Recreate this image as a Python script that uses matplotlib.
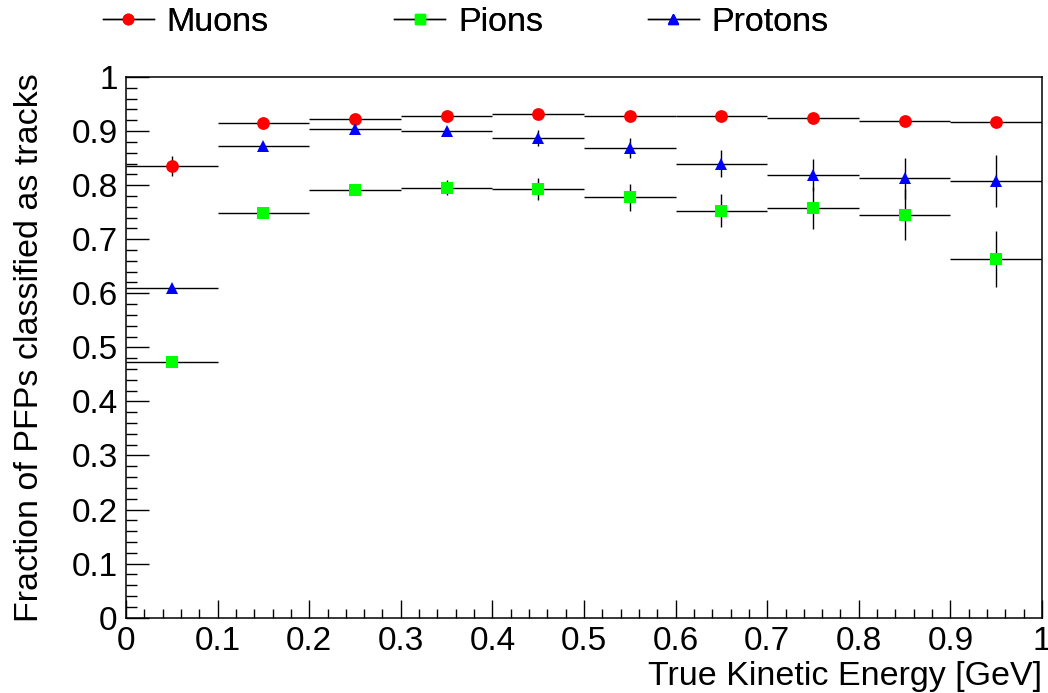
import matplotlib
matplotlib.use("Agg")
import matplotlib.pyplot as plt
from matplotlib.lines import Line2D
from matplotlib.ticker import MultipleLocator

plt.rcParams['font.family'] = ['Liberation Sans', 'DejaVu Sans']

# bin centres (GeV) and half widths
energia = [0.05, 0.15, 0.25, 0.35, 0.45, 0.55, 0.65, 0.75, 0.85, 0.95]
pol_szer = [0.05] * 10

miony = [0.835, 0.915, 0.922, 0.927, 0.931, 0.928, 0.927, 0.925, 0.918, 0.917]
miony_err = [0.018, 0.004, 0.003, 0.003, 0.003, 0.003, 0.003, 0.003, 0.003, 0.003]

piony = [0.472, 0.748, 0.791, 0.795, 0.793, 0.778, 0.753, 0.758, 0.745, 0.663]
piony_err = [0.004, 0.006, 0.009, 0.014, 0.020, 0.025, 0.031, 0.039, 0.047, 0.052]

protony = [0.609, 0.872, 0.904, 0.900, 0.887, 0.869, 0.840, 0.819, 0.813, 0.808]
protony_err = [0.004, 0.005, 0.006, 0.008, 0.015, 0.019, 0.025, 0.030, 0.038, 0.048]

fig = plt.figure(figsize=(10.48, 6.93), dpi=100)
ax = fig.add_axes([0.1202, 0.1087, 0.8741, 0.7802])

serie = [
    ('Muons', miony, miony_err, 'o', 'red', 9.2, 0.098),
    ('Pions', piony, piony_err, 's', '#00ff00', 8.6, 0.376),
    ('Protons', protony, protony_err, '^', 'blue', 9.2, 0.618),
]

for nazwa, wart, bledy, znak, kolor, rozm, leg_x in serie:
    ax.errorbar(energia, wart, xerr=pol_szer, yerr=bledy, fmt=znak, color=kolor,
                markersize=rozm, markeredgewidth=0, ecolor='black', elinewidth=1.0,
                capsize=3.0, capthick=1.1, zorder=3)
    # osobna legenda dla kazdej serii
    uchwyt = Line2D([], [], color='black', lw=1.0, marker=znak,
                    markerfacecolor=kolor, markeredgecolor=kolor, markersize=7.5,
                    label=nazwa)
    leg = fig.legend(handles=[uchwyt], loc='center left', bbox_to_anchor=(leg_x, 0.967),
                     frameon=False, fontsize=24.5, handlelength=1.5, handletextpad=0.38,
                     borderpad=0, borderaxespad=0)
    fig.add_artist(leg)

ax.set_xlim(0, 1)
ax.set_ylim(0, 1)
ax.xaxis.set_major_locator(MultipleLocator(0.1))
ax.xaxis.set_minor_locator(MultipleLocator(0.02))
ax.yaxis.set_major_locator(MultipleLocator(0.1))
ax.yaxis.set_minor_locator(MultipleLocator(0.02))

def fmt(v, pos):
    if abs(v) < 1e-9:
        return '0'
    if abs(v - 1) < 1e-9:
        return '1'
    return f'{v:.1f}'

ax.xaxis.set_major_formatter(plt.FuncFormatter(fmt))
ax.yaxis.set_major_formatter(plt.FuncFormatter(fmt))

ax.tick_params(axis='both', which='both', direction='in', top=False, right=False,
               labelsize=24, width=1.0)
ax.tick_params(axis='y', which='major', length=16.5, pad=6)
ax.tick_params(axis='y', which='minor', length=8)
ax.tick_params(axis='x', which='major', length=13, pad=6)
ax.tick_params(axis='x', which='minor', length=6.5)
for s in ax.spines.values():
    s.set_linewidth(1.1)

ax.set_xlabel('True Kinetic Energy [GeV]', fontsize=24.5, loc='right')
ax.set_ylabel('Fraction of PFPs classified as tracks', fontsize=24.5, loc='top')
ax.xaxis.set_label_coords(1.0, -0.081)
ax.yaxis.set_label_coords(-0.088, 1.007)

fig.savefig('out.png', dpi=100)
